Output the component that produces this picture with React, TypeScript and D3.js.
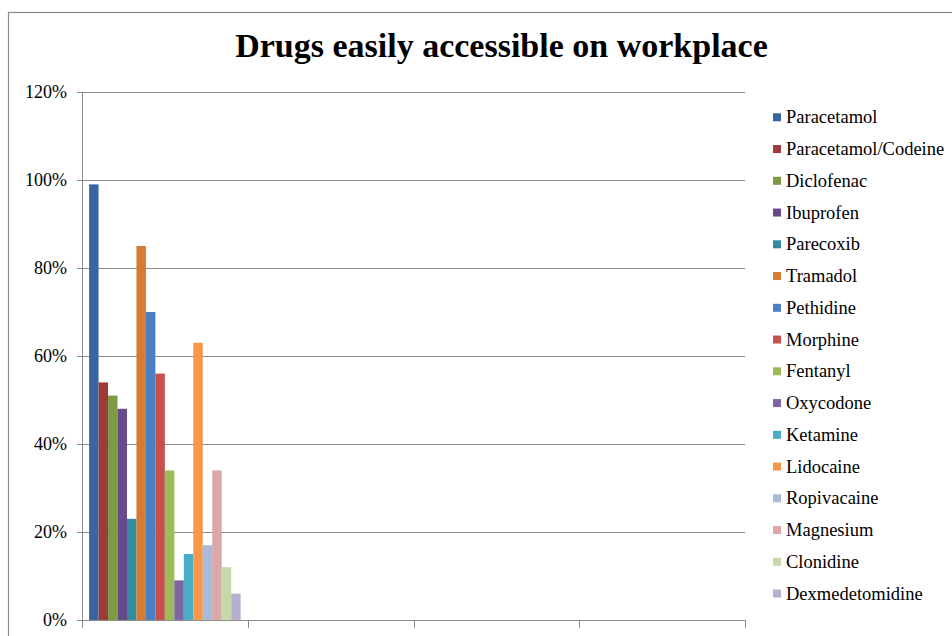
import React from "react";
import * as d3 from "d3";

const categories = ["", "", "", ""];
const seriesNames = [
  "Paracetamol",
  "Paracetamol/Codeine",
  "Diclofenac",
  "Ibuprofen",
  "Parecoxib",
  "Tramadol",
  "Pethidine",
  "Morphine",
  "Fentanyl",
  "Oxycodone",
  "Ketamine",
  "Lidocaine",
  "Ropivacaine",
  "Magnesium",
  "Clonidine",
  "Dexmedetomidine",
];
// values for the first category (others empty)
const seriesValues = [0.99, 0.54, 0.51, 0.48, 0.23, 0.85, 0.7, 0.56, 0.34, 0.09, 0.15, 0.63, 0.17, 0.34, 0.12, 0.06];
const seriesColors = [
  "#3866A0",
  "#9E3B39",
  "#7D9C42",
  "#664B89",
  "#338BA1",
  "#D57B33",
  "#4C80C6",
  "#C5504D",
  "#9CBB5A",
  "#8065A3",
  "#4AADC7",
  "#F79747",
  "#A7BBDC",
  "#DAA8A7",
  "#C6D8A9",
  "#B8AFD0",
];
const yTicks = [0, 0.2, 0.4, 0.6, 0.8, 1.0, 1.2];

const W = 952;
const H = 636;
const FONT = "Liberation Serif";

export default function App() {
  const left = 82;
  const right = 745;
  const top = 92;
  const bottom = 620;

  const y = d3.scaleLinear().domain([0, 1.2]).range([bottom, top]);
  const x = d3.scaleBand<number>().domain(d3.range(categories.length)).range([left, right]).padding(0);
  const bw = x.bandwidth();
  const barW = bw / (seriesNames.length + 1.5);
  const inner = d3
    .scaleBand<number>()
    .domain(d3.range(seriesNames.length))
    .range([barW * 0.75, bw - barW * 0.75])
    .padding(0);

  const fmt = d3.format(".0%");
  const gridColor = "#8c8c8c";

  const legendX = 773;
  const legendY0 = 117.3;
  const legendStep = 31.75;
  const ts = { fontFamily: FONT };

  return (
    <svg
      width={W}
      height={H}
      style={{ position: "absolute", left: 0, top: 0, background: "#fff" }}
    >
      <rect x={0} y={0} width={W} height={H} fill="#fff" />
      {/* chart frame */}
      <rect x={8.5} y={12.5} width={W + 20} height={H + 20} fill="none" stroke="#8a8a8a" strokeWidth={1.2} />

      <text x={501.5} y={57} textAnchor="middle" fontSize={34} fontWeight="bold" fill="#000" style={ts}>
        Drugs easily accessible on workplace
      </text>

      {/* gridlines and y ticks */}
      {yTicks.map((t) => (
        <g key={t}>
          <line x1={left - 5} x2={right} y1={Math.round(y(t)) + 0.5} y2={Math.round(y(t)) + 0.5} stroke={gridColor} strokeWidth={1} />
          <text x={67} y={y(t) + 6} textAnchor="end" fontSize={18} fill="#000" style={ts}>
            {fmt(t)}
          </text>
        </g>
      ))}

      {/* y axis */}
      <line x1={left + 0.5} x2={left + 0.5} y1={top} y2={bottom} stroke={gridColor} strokeWidth={1} />

      {/* x category ticks */}
      {d3.range(categories.length + 1).map((i) => {
        const xx = i < categories.length ? (x(i) as number) : right;
        return <line key={i} x1={Math.round(xx) + 0.5} x2={Math.round(xx) + 0.5} y1={bottom} y2={bottom + 8} stroke={gridColor} strokeWidth={1} />;
      })}

      {/* bars */}
      {seriesValues.map((v, i) => {
        const bx = (x(0) as number) + (inner(i) as number);
        return (
          <rect
            key={seriesNames[i]}
            x={bx}
            y={y(v)}
            width={inner.bandwidth()}
            height={bottom - y(v)}
            fill={seriesColors[i]}
          />
        );
      })}

      {/* legend */}
      {seriesNames.map((name, i) => {
        const cy = legendY0 + i * legendStep;
        return (
          <g key={name}>
            <rect x={legendX} y={cy - 4} width={8} height={8} fill={seriesColors[i]} />
            <text x={786} y={cy + 6} fontSize={18.5} fill="#000" style={ts}>
              {name}
            </text>
          </g>
        );
      })}
    </svg>
  );
}
